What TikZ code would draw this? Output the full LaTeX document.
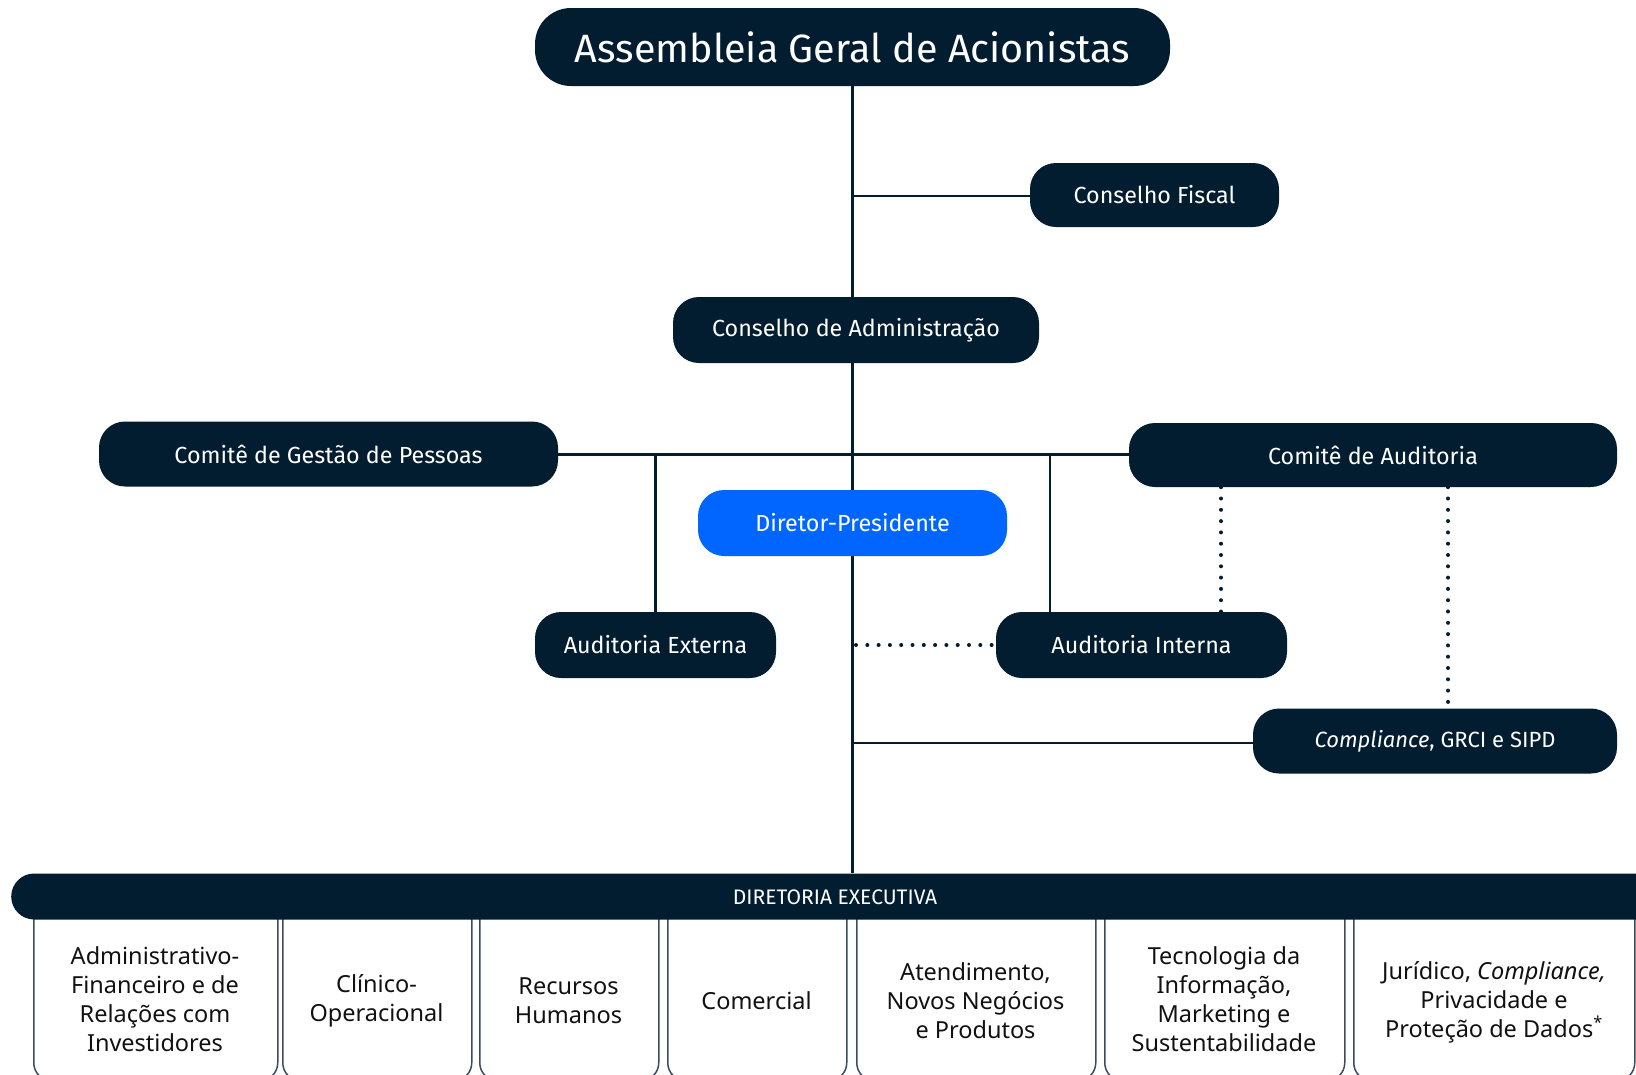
\documentclass[tikz,border=0pt]{standalone}
\usepackage{fontspec}
\setmainfont{Fira Sans}
\newfontfamily\hdr{Fira Sans}
\newfontfamily\boxfont{Noto Sans}
\usetikzlibrary{backgrounds}
\definecolor{navy}{HTML}{021D30}
\definecolor{bluep}{HTML}{0066FF}
\definecolor{edgec}{HTML}{3A4C5E}
\definecolor{ink}{HTML}{111111}
\begin{document}
\begin{tikzpicture}[x=1pt,y=-1pt,
  pill/.style={fill=navy, text=white, rounded corners=26pt, minimum height=64pt, inner sep=0pt,
    font=\hdr\fontsize{23.3}{27}\selectfont},
  conn/.style={draw=navy, line width=2.5pt},
  dots/.style={draw=navy, line width=4pt, line cap=round, dash pattern=on 0pt off 11.3pt},
  unitbox/.style={draw=edgec, line width=1.5pt, rounded corners=18pt, anchor=north west, inner sep=0pt},
  unittext/.style={text=ink, align=center, inner sep=0pt, font=\boxfont\fontsize{23.5}{29}\selectfont}]
\useasboundingbox (0,0) rectangle (1636,1074);

% top nodes
\node[pill, rounded corners=36pt, minimum width=635pt, minimum height=78pt,
      font=\hdr\fontsize{39.5}{44}\selectfont] (asm) at (852.5,47) {Assembleia Geral de Acionistas};
\node[pill, minimum width=249pt] (fiscal) at (1154.5,195) {Conselho Fiscal};
\node[pill, minimum width=366pt, minimum height=66pt] (cadm) at (856,330) {Conselho de Administração};
\node[pill, minimum width=459pt, minimum height=65pt] (cgp) at (328.5,454) {Comitê de Gestão de Pessoas};
\node[pill, minimum width=488pt] (caud) at (1373,455) {Comitê de Auditoria};
\node[pill, fill=bluep, minimum width=309pt, minimum height=66pt] (dp) at (852.5,523) {Diretor-Presidente};
\node[pill, minimum width=241pt, minimum height=66pt] (ae) at (655.5,645) {Auditoria Externa};
\node[pill, minimum width=291pt, minimum height=66pt] (ai) at (1141.5,645) {Auditoria Interna};
\node[pill, minimum width=364pt, minimum height=65pt, font=\hdr\fontsize{22}{26}\selectfont] (comp) at (1435,741) {\textit{Compliance}, GRCI e SIPD};

% bottom unit boxes
\node[unitbox, minimum width=244pt, minimum height=200pt] (b1) at (33,880) {};
\node[unitbox, minimum width=189pt, minimum height=200pt] (b2) at (282,880) {};
\node[unitbox, minimum width=179pt, minimum height=200pt] (b3) at (479,880) {};
\node[unitbox, minimum width=179pt, minimum height=200pt] (b4) at (667,880) {};
\node[unitbox, minimum width=239pt, minimum height=200pt] (b5) at (856,880) {};
\node[unitbox, minimum width=240pt, minimum height=200pt] (b6) at (1104,880) {};
\node[unitbox, minimum width=281pt, minimum height=200pt] (b7) at (1353,880) {};

\node[unittext] (t1) at (155,999) {Administrativo-\\Financeiro e de\\Relações com\\Investidores};
\node[unittext] (t2) at (376.5,1001) {Clínico-\\Operacional};
\node[unittext] (t3) at (568.5,1001) {Recursos\\Humanos};
\node[unittext] (t4) at (756.5,1001) {Comercial};
\node[unittext] (t5) at (975.5,1001) {Atendimento,\\Novos Negócios\\e Produtos};
\node[unittext] (t6) at (1224,999) {Tecnologia da\\Informação,\\Marketing e\\Sustentabilidade};
\node[unittext] (t7) at (1494,1002) {Jurídico, \textit{Compliance,}\\Privacidade e\\Proteção de Dados\textsuperscript{*}};

% executive bar
\node[fill=navy, rounded corners=23pt, minimum height=46pt, minimum width=1670pt, inner sep=0pt, anchor=west] (bar) at (11,896.5) {};
\node[text=white, inner sep=0pt, font=\hdr\fontsize{21}{24}\selectfont] (bartext) at (835,897) {DIRETORIA EXECUTIVA};

\coordinate (aiLink) at (1050,454.5);
\coordinate (fisLink) at (852.5,196);
\coordinate (compLink) at (852.5,743);
\coordinate (dotA) at (1221,487);
\coordinate (dotB) at (1448,487);
\coordinate (dotC) at (856,645);

\begin{scope}[on background layer]
  \fill[white] (0,0) rectangle (1636,1074);
  \draw[conn] (asm.south) -- (asm.south |- bar.north);
  \draw[conn] (fisLink) -- (fisLink -| fiscal.west);
  \draw[conn] (cgp.east |- aiLink) -- (caud.west |- aiLink);
  \draw[conn] (ae.north |- aiLink) -- (ae.north);
  \draw[conn] (aiLink) -- (aiLink |- ai.north);
  \draw[conn] (compLink) -- (compLink -| comp.west);
  \draw[dots] (dotC) -- (ai.west);
  \draw[dots] (dotA |- caud.south) -- (dotA |- ai.north);
  \draw[dots] (dotB |- caud.south) -- (dotB |- comp.north);
\end{scope}
\end{tikzpicture}
\end{document}
